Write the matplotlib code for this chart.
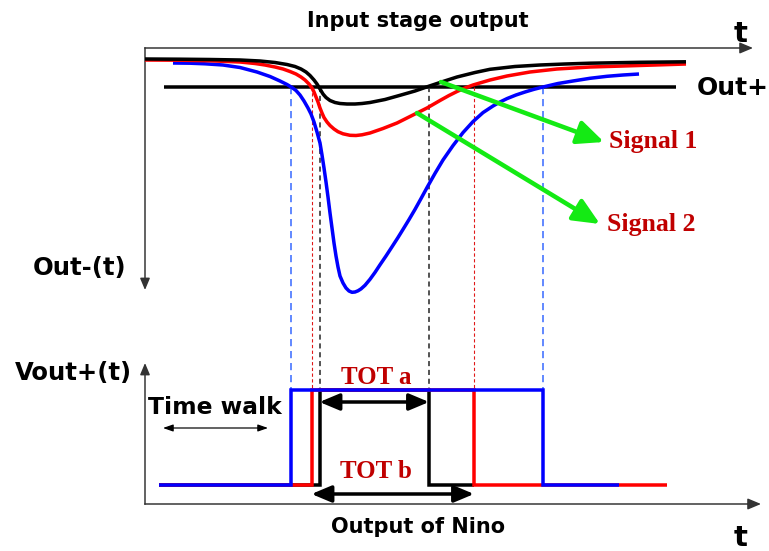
import matplotlib
matplotlib.use("Agg")
import matplotlib.pyplot as plt
from matplotlib.patches import ArrowStyle

# ---------------- data (canvas units: x to the right, y downward) ----------------
# Input-stage output traces for the three pulse amplitudes
black_t = [145, 180, 210, 240, 260, 275, 287, 295, 301, 306, 310, 314, 317, 320, 323,
           326, 330, 335, 340, 347, 355, 362, 370, 385, 400, 415, 428, 443, 457, 475,
           490, 515, 540, 565, 590, 640, 686]
black_v = [59, 59.2, 59.5, 60, 61, 62.5, 64.5, 66.5, 69, 72, 75.5, 80, 84, 89, 94,
           97.5, 100.5, 102.5, 103.5, 104, 104, 103.5, 102.5, 99.5, 95.3, 91, 86.5, 81.5, 77, 72.5,
           69.3, 66.5, 65, 64, 63.2, 62.3, 61.8]

red_t = [145, 180, 210, 240, 255, 265, 275, 283, 290, 296, 301, 305, 309, 312, 314,
         316, 318, 320, 322, 324, 327, 330, 334, 338, 343, 350, 356, 362, 370, 383,
         397, 412, 427, 440, 449, 457, 465, 473, 490, 507, 530, 557, 590, 623, 655, 686]
red_v = [60, 60.2, 60.8, 62, 63.5, 65, 67, 69, 71.5, 74, 77, 80, 84, 88, 92,
         97, 102, 108, 113, 117.5, 122, 125.5, 129, 131.7, 133.8, 135.3, 135.5, 134.8, 133, 128.5,
         123, 115.5, 108, 100.5, 95.5, 91.5, 88, 85, 80, 76, 72, 69, 67, 66, 65, 64]

blue_t = [173, 190, 205, 223, 240, 257, 270, 280, 287, 292, 296, 300, 304, 308, 311,
          314, 317, 320, 322, 324, 326, 328, 330, 332, 334, 336, 338, 340, 343, 346,
          349, 352, 355, 358, 361, 365, 370, 375, 380, 386, 392, 398, 403, 409, 415,
          421, 427, 435, 443, 453, 463, 473, 483, 493, 500, 507, 516, 525, 534, 543,
          558, 573, 590, 607, 623, 639]
blue_v = [63, 63.2, 63.8, 65, 67.5, 72, 76.5, 81, 84.5, 87.5, 90.5, 95, 101, 108, 114,
          122, 132, 143, 155, 168, 182, 197, 213, 228, 243, 256, 267, 276, 283, 288,
          291, 292.3, 292, 290.8, 288.9, 285.3, 279.3, 272.4, 264.8, 256, 246.8, 237.5, 229.4, 219.6, 209.4,
          198.6, 187.6, 173.4, 160, 145.6, 132.6, 121.6, 112.6, 106, 102, 98.6, 95, 92, 89.3, 87,
          83.5, 81, 78.3, 76.3, 75, 74]

threshold = 87          # Out+ comparator level
threshold_span = [164, 676]

# Discriminator (NINO) output: leading / trailing threshold crossings
signal_names = ["black", "red", "blue"]
rise_t = [319.5, 311.5, 290.7]
fall_t = [429, 474, 543]
out_start = [159, 159, 159]
out_end = [474, 667, 619]
out_low = 485
out_high = 390

# ---------------- figure ----------------
W, H = 769, 551
fig = plt.figure(figsize=(W / 100, H / 100), dpi=100)
ax = fig.add_axes([0, 0, 1, 1])
ax.set_xlim(0, W)
ax.set_ylim(H, 0)
ax.axis("off")

PX = 0.72  # points per pixel at 100 dpi
colors = {"black": "#000000", "red": "#ff0000", "blue": "#0000ff"}
dash_colors = {"black": "#3a3a3a", "red": "#e01818", "blue": "#3f6fff"}
dark_red = "#c00000"
green = "#14ea14"
axis_col = "#333333"

sans = ["DejaVu Sans"]
serif = ["Liberation Serif", "DejaVu Serif"]


def arrow(p0, p1, style, lw, color, ms=10, z=5):
    ax.annotate("", xy=p1, xytext=p0,
                arrowprops=dict(arrowstyle=style, lw=lw, color=color,
                                mutation_scale=ms, shrinkA=0, shrinkB=0),
                zorder=z)


axis_head = ArrowStyle("-|>", head_length=1.0, head_width=0.42)

# axes of the upper panel
ax.plot([145, 748], [48, 48], color=axis_col, lw=1.5 * PX, zorder=2)
arrow((740, 48), (753, 48), axis_head, 1.5 * PX, axis_col, ms=8)
ax.plot([145, 145], [48, 284], color=axis_col, lw=1.5 * PX, zorder=2)
arrow((145, 280), (145, 290), axis_head, 1.5 * PX, axis_col, ms=7)

# axes of the lower panel
ax.plot([145, 755], [504, 504], color=axis_col, lw=1.5 * PX, zorder=2)
arrow((748, 504), (761, 504), axis_head, 1.5 * PX, axis_col, ms=8)
ax.plot([145, 145], [368, 504], color=axis_col, lw=1.5 * PX, zorder=2)
arrow((145, 374), (145, 363), axis_head, 1.5 * PX, axis_col, ms=7)

# comparator threshold
ax.plot(threshold_span, [threshold, threshold], color="black", lw=3.5 * PX,
        solid_capstyle="butt", zorder=3)

# input-stage traces
for t, v, name in [(blue_t, blue_v, "blue"), (red_t, red_v, "red"), (black_t, black_v, "black")]:
    ax.plot(t, v, color=colors[name], lw=3.5 * PX, solid_joinstyle="round",
            solid_capstyle="butt", zorder=4)

# dashed guides from the threshold crossings down to the output pulses
dash_w = {"black": 1.7, "red": 1.1, "blue": 1.6}
dash_pat = {"black": (3, 2.2), "red": (3, 2.2), "blue": (4.5, 3)}
for name, r, f in zip(signal_names, rise_t, fall_t):
    for x in (r, f):
        ax.plot([x, x], [threshold, out_high], color=dash_colors[name],
                lw=dash_w[name] * PX, dashes=dash_pat[name], zorder=3)

# NINO output pulses (black under red under blue)
for name, s, r, f, e in zip(signal_names, out_start, rise_t, fall_t, out_end):
    ax.plot([s, r, r, f, f, e], [out_low, out_low, out_high, out_high, out_low, out_low],
            color=colors[name], lw=3.5 * PX, solid_joinstyle="miter",
            solid_capstyle="butt", zorder=5)

# TOT markers
tot_style = ArrowStyle("<|-|>", head_length=1.0, head_width=0.42)
arrow((rise_t[0], 402), (fall_t[0], 402), tot_style, 3.5 * PX, "black", ms=12, z=6)
arrow((rise_t[1], 494), (fall_t[1], 494), tot_style, 3.5 * PX, "black", ms=12, z=6)
ax.text(376, 384, "TOT a", color=dark_red, family=serif, weight="bold",
        fontsize=18, ha="center", va="baseline", zorder=7)
ax.text(376, 478, "TOT b", color=dark_red, family=serif, weight="bold",
        fontsize=18, ha="center", va="baseline", zorder=7)

# time-walk marker
arrow((163, 428), (268, 428), ArrowStyle("<|-|>", head_length=1.0, head_width=0.35),
      1.2 * PX, "black", ms=6, z=6)
ax.text(215, 414, "Time walk", family=sans, weight="bold", fontsize=16.8,
        ha="center", va="baseline", zorder=7)

# signal labels with green pointers
green_style = ArrowStyle("-|>", head_length=1.0, head_width=0.45)
arrow((441, 82), (604, 142), green_style, 4.5 * PX, green, ms=16, z=6)
arrow((417, 113), (600, 224), green_style, 4.5 * PX, green, ms=16, z=6)
ax.text(609, 148, "Signal 1", color=dark_red, family=serif, weight="bold",
        fontsize=18.5, ha="left", va="baseline", zorder=7)
ax.text(607, 231, "Signal 2", color=dark_red, family=serif, weight="bold",
        fontsize=18.5, ha="left", va="baseline", zorder=7)

# titles and axis labels
ax.text(418, 27, "Input stage output", family=sans, weight="bold", fontsize=15,
        ha="center", va="baseline")
ax.text(418, 533, "Output of Nino", family=sans, weight="bold", fontsize=15,
        ha="center", va="baseline")
ax.text(741, 42, "t", family=sans, weight="bold", fontsize=21, ha="center", va="baseline")
ax.text(741, 546, "t", family=sans, weight="bold", fontsize=21, ha="center", va="baseline")
ax.text(697, 95, "Out+", family=sans, weight="bold", fontsize=18, ha="left", va="baseline")
ax.text(33, 275, "Out-(t)", family=sans, weight="bold", fontsize=17.5, ha="left", va="baseline")
ax.text(15, 380, "Vout+(t)", family=sans, weight="bold", fontsize=17.5, ha="left", va="baseline")

fig.savefig("out.png", dpi=100)
